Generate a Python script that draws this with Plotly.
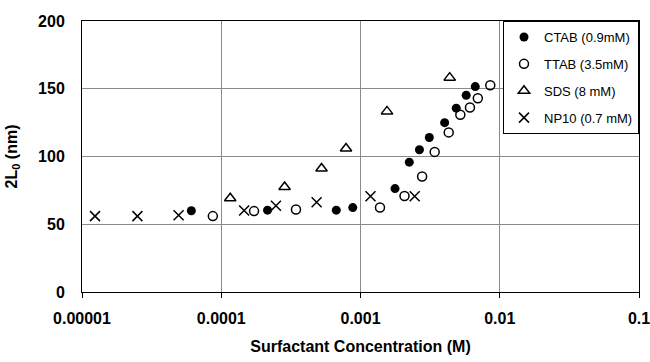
import plotly.graph_objects as go

# ---- data ----
ctab_x = [6.1e-5, 2.15e-4, 6.7e-4, 8.8e-4, 1.77e-3, 2.24e-3, 2.65e-3, 3.12e-3, 4.02e-3, 4.87e-3, 5.74e-3, 6.67e-3]
ctab_y = [60, 60.4, 60.4, 62.3, 76.3, 95.8, 105, 114, 125, 135.7, 145.2, 151.6]

ttab_x = [8.7e-5, 1.72e-4, 3.44e-4, 1.38e-3, 2.07e-3, 2.77e-3, 3.41e-3, 4.30e-3, 5.21e-3, 6.11e-3, 6.96e-3, 8.55e-3]
ttab_y = [56, 59.7, 60.9, 62.3, 70.9, 85.3, 103.4, 117.8, 130.8, 136.2, 143, 152.6]

sds_x = [1.16e-4, 2.85e-4, 5.25e-4, 7.87e-4, 1.55e-3, 4.37e-3]
sds_y = [69.2, 77.5, 91.2, 105.9, 133.3, 158.2]

np10_x = [1.24e-5, 2.5e-5, 4.94e-5, 1.46e-4, 2.47e-4, 4.84e-4, 1.18e-3, 2.45e-3]
np10_y = [56, 56, 56.7, 60.1, 63.6, 66.3, 70.7, 70.7]

x_tickvals = [1e-5, 1e-4, 1e-3, 1e-2, 1e-1]
x_ticktext = ["0.00001", "0.0001", "0.001", "0.01", "0.1"]
y_tickvals = [0, 50, 100, 150, 200]

FONT = "Liberation Sans, Arial, sans-serif"

fig = go.Figure()
fig.add_trace(go.Scatter(x=ctab_x, y=ctab_y, mode="markers", name="CTAB (0.9mM)", legendgroup="a",
                         marker=dict(symbol="circle", size=9, color="black")))
fig.add_trace(go.Scatter(x=ttab_x, y=ttab_y, mode="markers", name="TTAB (3.5mM)", legendgroup="b",
                         marker=dict(symbol="circle-open", size=9, color="black",
                                     line=dict(width=1.5, color="black"))))
fig.add_trace(go.Scatter(x=sds_x, y=sds_y, mode="markers", name="SDS (8 mM)", legendgroup="c",
                         marker=dict(symbol="triangle-up-open", size=10, color="black",
                                     line=dict(width=1.5, color="black"))))
fig.add_trace(go.Scatter(x=np10_x, y=np10_y, mode="markers", name="NP10 (0.7 mM)", legendgroup="d",
                         marker=dict(symbol="x-thin-open", size=10, color="black",
                                     line=dict(width=1.5, color="black"))))

fig.update_layout(
    width=650, height=362,
    margin=dict(l=82, r=11, t=21, b=70, autoexpand=False),
    paper_bgcolor="white", plot_bgcolor="white",
    font=dict(family=FONT, color="black"),
    showlegend=True,
    legend=dict(x=1, y=1, xanchor="right", yanchor="top",
                bgcolor="white", bordercolor="black", borderwidth=1,
                font=dict(family=FONT, size=13, color="black"),
                itemwidth=30, traceorder="grouped", tracegroupgap=7),
)
fig.update_xaxes(
    type="log", range=[-5, -1], automargin=False,
    tickvals=x_tickvals, ticktext=x_ticktext,
    tickfont=dict(family=FONT, size=16, color="black", weight="bold"),
    ticklabeloverflow="allow", ticklabelstandoff=7,
    showgrid=True, gridcolor="#8a8a8a", gridwidth=1,
    showline=True, linecolor="black", linewidth=1, mirror=True,
    ticks="outside", ticklen=5, tickcolor="black",
    title=dict(text="Surfactant Concentration (M)", standoff=14,
               font=dict(family=FONT, size=16, color="black", weight="bold")),
    zeroline=False,
)
fig.update_yaxes(
    range=[0, 200], tickvals=y_tickvals, automargin=False,
    tickfont=dict(family=FONT, size=16, color="black", weight="bold"),
    showgrid=True, gridcolor="#8a8a8a", gridwidth=1,
    showline=True, linecolor="black", linewidth=1, mirror=True,
    ticks="", ticklabelstandoff=13,
    title=dict(text="2L<sub>0</sub> (nm)", standoff=16,
               font=dict(family=FONT, size=16, color="black", weight="bold")),
    zeroline=False,
)

fig.write_html("out.html")
